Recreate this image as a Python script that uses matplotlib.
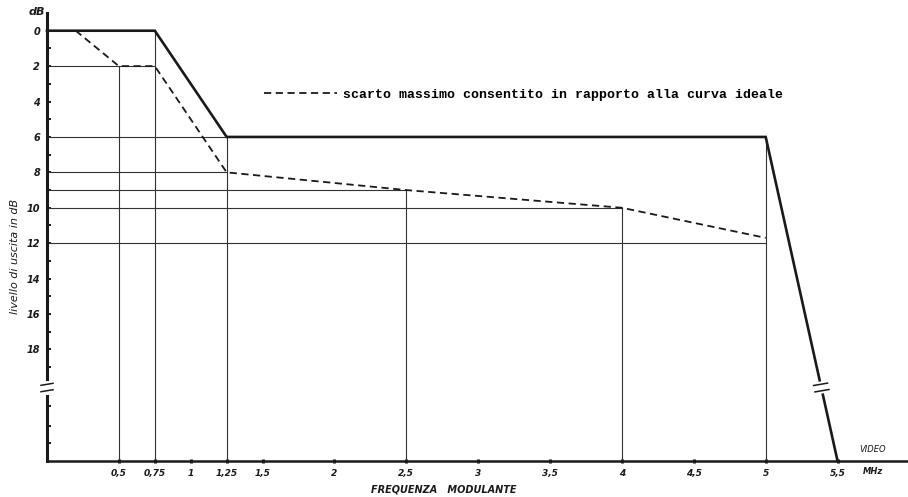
import numpy as np
import matplotlib
matplotlib.use("Agg")
import matplotlib.pyplot as plt

# curva ideale (tratto grosso)
ideal_freq = [0, 0.75, 1.25, 5, 5.5]
ideal_db = [0, 0, 6, 6, 24.3]

# scarto massimo consentito (tratteggio)
toll_freq = [0.2, 0.5, 0.75, 1.25, 2.5, 4, 5]
toll_db = [0, 2, 2, 8, 9, 10, 11.7]

# linee di riferimento sottili
h_db = [2, 6, 8, 9, 10, 12]
h_end = [0.75, 1.25, 1.25, 2.5, 4, 5]
v_freq = [0.5, 0.75, 1.25, 2.5, 4, 5]
v_start = [2, 0, 6, 9, 10, 6]

xticks = [0.5, 0.75, 1, 1.25, 1.5, 2, 2.5, 3, 3.5, 4, 4.5, 5, 5.5]
xlabels = ["0,5", "0,75", "1", "1,25", "1,5", "2", "2,5", "3", "3,5", "4", "4,5", "5", "5,5"]
yticks = [0, 2, 4, 6, 8, 10, 12, 14, 16, 18]
yminor = [1, 3, 5, 7, 9, 11, 13, 15, 17, 19, 21.2, 22.3, 23.3]

ink = "#1a1a1a"
thin = "#333333"
break_db = 20.15

fig = plt.figure(figsize=(9.08, 4.97), dpi=100)
ax = fig.add_axes([47 / 908, 36 / 497, 861 / 908, 448 / 497])
ax.set_xlim(0, 5.99)
ax.set_ylim(24.3, -1.0)
y_bottom = ax.get_ylim()[0]

for d, e in zip(h_db, h_end):
    ax.plot([0, e], [d, d], color=thin, lw=0.8, zorder=2)
for f, s in zip(v_freq, v_start):
    ax.plot([f, f], [s, y_bottom], color=thin, lw=0.8, zorder=2)

ax.plot(ideal_freq, ideal_db, color=ink, lw=1.9, solid_joinstyle="miter", zorder=3, clip_on=False)
toll, = ax.plot(toll_freq, toll_db, color=ink, lw=1.3, dashes=(4, 2.5), zorder=3,
                label="scarto massimo consentito in rapporto alla curva ideale")

# interruzione sull'asse y
px_x = 861 / 5.99
px_y = 448 / 25.3
gap = 3.2 / px_y
ax.plot([0, 0], [break_db - gap, break_db + gap], color="white", lw=5, zorder=5, clip_on=False)
for yy in (break_db - gap, break_db + gap):
    ax.plot([-6 / px_x, 6 / px_x], [yy + 1 / px_y, yy - 1 / px_y], color=ink, lw=1.1,
            zorder=6, clip_on=False)

# interruzione sulla curva ideale
seg_db = ideal_db[-2:]
seg_f = ideal_freq[-2:]
xb1 = np.interp(break_db - gap, seg_db, seg_f)
xb2 = np.interp(break_db + gap, seg_db, seg_f)
ax.plot([xb1, xb2], [break_db - gap, break_db + gap], color="white", lw=4, zorder=5)
for xb, yy in ((xb1, break_db - gap), (xb2, break_db + gap)):
    ax.plot([xb - 7 / px_x, xb + 7 / px_x], [yy + 1.2 / px_y, yy - 1.2 / px_y], color=ink,
            lw=1.1, zorder=6)

for side in ("top", "right"):
    ax.spines[side].set_visible(False)
ax.spines["left"].set_linewidth(2.2)
ax.spines["bottom"].set_linewidth(1.8)
ax.spines["left"].set_color(ink)
ax.spines["bottom"].set_color(ink)

ax.set_xticks(xticks)
ax.set_xticklabels(xlabels, fontsize=6.5, style="italic", weight="bold", color=ink)
ax.set_yticks(yticks)
ax.set_yticklabels([str(v) for v in yticks], fontsize=7, style="italic", weight="bold", color=ink)
ax.set_yticks(yminor, minor=True)
ax.tick_params(axis="x", direction="inout", length=3, width=2.2, pad=4, color=ink)
ax.tick_params(axis="y", which="both", direction="in", length=3, width=1.4, pad=5, color=ink)

ax.legend(handles=[toll], loc="center left", bbox_to_anchor=(0.252, 0.818), frameon=False,
          borderpad=0, borderaxespad=0, handlelength=5.5, handletextpad=0.5,
          prop={"family": "Liberation Mono", "size": 9.5, "weight": "bold"})

fig.text(37 / 908, 1 - 12 / 497, "dB", fontsize=8, style="italic", weight="bold",
         ha="center", va="center", color=ink)
fig.text(15 / 908, 1 - 256 / 497, "livello di uscita in dB", fontsize=8, style="italic",
         rotation=90, ha="center", va="center", color=ink)
fig.text(444 / 908, 1 - 490 / 497, "FREQUENZA   MODULANTE", fontsize=7, style="italic",
         weight="bold", ha="center", va="center", color=ink)
fig.text(873 / 908, 1 - 449 / 497, "VIDEO", fontsize=6, style="italic", ha="center",
         va="center", color=ink)
fig.text(873 / 908, 1 - 471 / 497, "MHz", fontsize=6, style="italic", weight="bold",
         ha="center", va="center", color=ink)

fig.savefig("out.png", dpi=100)
